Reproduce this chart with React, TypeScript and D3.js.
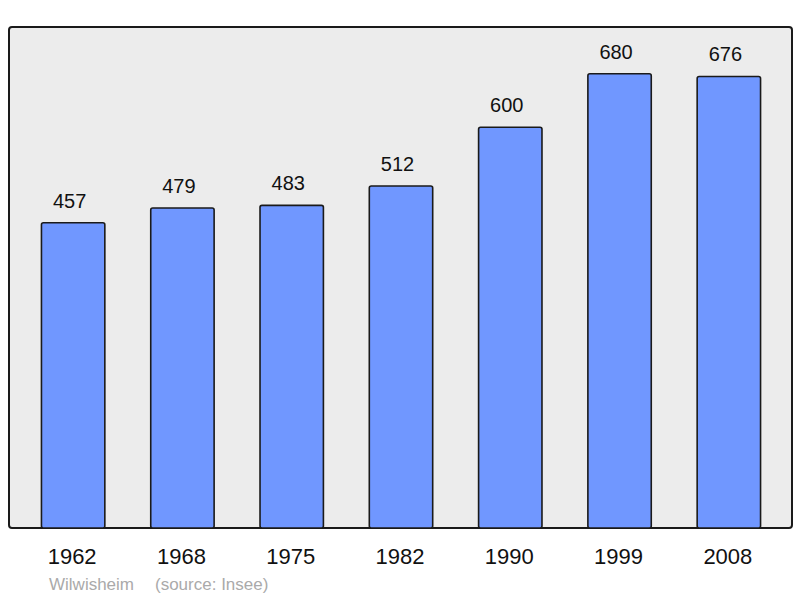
import React from "react";
import * as d3 from "d3";

const years = ["1962", "1968", "1975", "1982", "1990", "1999", "2008"];
const population = [457, 479, 483, 512, 600, 680, 676];
const footerName = "Wilwisheim";
const footerSource = "(source: Insee)";

export default function App() {
  const W = 800, H = 598;
  const plot = { left: 9, top: 27, right: 792, bottom: 528 };
  const x = d3.scaleBand<string>().domain(years).range([18.5, 783.5]).paddingInner(0.42).paddingOuter(0.21);
  const y = d3.scaleLinear().domain([0, 750]).range([plot.bottom, plot.top]);
  return (
    <svg width={W} height={H} style={{ position: "absolute", left: 0, top: 0 }} fontFamily="'Liberation Sans', Arial, sans-serif">
      <rect x={plot.left} y={plot.top} width={plot.right - plot.left} height={plot.bottom - plot.top} rx={3} fill="#ececec" stroke="#1a1a1a" strokeWidth={2} />
      {years.map((yr, i) => {
        const bx = x(yr)!;
        const by = y(population[i]);
        return (
          <g key={yr}>
            <rect x={bx} y={by} width={x.bandwidth()} height={plot.bottom - by} rx={2} fill="#7097ff" stroke="#1a1a1a" strokeWidth={1.6} />
            <text x={bx + x.bandwidth() / 2 - 3.5} y={by - 15} textAnchor="middle" fontSize={20} fill="#111">{population[i]}</text>
            <text x={bx + x.bandwidth() / 2 - 1} y={564} textAnchor="middle" fontSize={22} fill="#111">{yr}</text>
          </g>
        );
      })}
      <text x={49} y={590} fontSize={17} fill="#aaaaaa">{footerName}</text>
      <text x={155} y={590} fontSize={17} fill="#aaaaaa">{footerSource}</text>
    </svg>
  );
}
